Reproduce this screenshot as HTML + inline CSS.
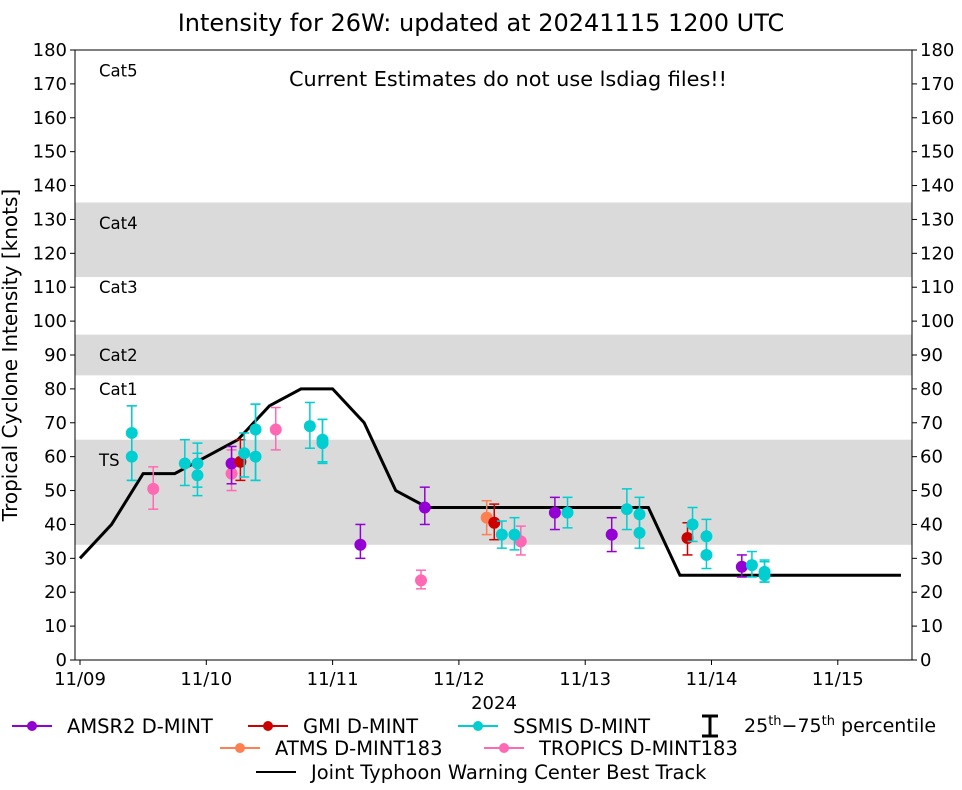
<!DOCTYPE html>
<html><head><meta charset="utf-8"><style>
body{margin:0;background:#fff;font-family:"Liberation Sans","DejaVu Sans",sans-serif}
text{font-family:"DejaVu Sans","Liberation Sans",sans-serif}
</style></head><body>
<svg id="c" width="962" height="785" xmlns="http://www.w3.org/2000/svg"></svg>
<script>
const dayLabels=["11/09","11/10","11/11","11/12","11/13","11/14","11/15"];
const yTicks=[0,10,20,30,40,50,60,70,80,90,100,110,120,130,140,150,160,170,180];
const bands=[[34,65],[84,96],[113,135]];
const catLabels=[["TS",59],["Cat1",80],["Cat2",90],["Cat3",110],["Cat4",129],["Cat5",174]];
const btDays=[0,0.25,0.5,0.75,1,1.25,1.5,1.75,2,2.25,2.5,2.75,3,3.5,4,4.5,4.75,5,5.5,6,6.5];
const btVals=[30,40,55,55,60,65,75,80,80,70,50,45,45,45,45,45,25,25,25,25,25];
const amsr=[[1.2,58,52,63],[2.22,34,30,40],[2.73,45,40,51],[3.76,43.5,38.5,48],[4.21,37,32,42],[5.24,27.5,24.5,31]];
const gmi=[[1.27,58.5,53,65],[3.28,40.5,35.5,46],[4.81,36,31,40.5]];
const ssmis=[[0.41,67,53,75],[0.41,60,53,75],[0.83,58,51.5,65],[0.93,58,51,64],[0.93,54.5,48.5,61],[1.3,61,54,67],[1.39,68,53,75.5],[1.39,60,53,75.5],[1.82,69,62.5,76],[1.92,64,58,71],[1.92,65,58.5,71],[3.34,37,33,41],[3.44,37,32.5,42],[3.86,43.5,39,48],[4.33,44.5,38.5,50.5],[4.43,43,38,48],[4.43,37.5,33,42],[4.85,40,35,45],[4.96,36.5,31,41.5],[4.96,31,27,36],[5.32,28,24.5,32],[5.42,26,23,29.5],[5.42,25,23,29]];
const atms=[[3.22,42,37,47]];
const tropics=[[0.58,50.5,44.5,57],[1.2,55,50,62],[1.55,68,62,74.5],[2.7,23.5,21,26.5],[3.49,35,31,39.5]];
const L=75,R=912,T=50,B=660;
const X=d=>80+d*126.3, Y=v=>B-v*(B-T)/180;
const svg=document.getElementById('c');const NS="http://www.w3.org/2000/svg";
function el(t,a,p){const e=document.createElementNS(NS,t);for(const k in a)e.setAttribute(k,a[k]);(p||svg).appendChild(e);return e;}
function tx(s,a){const e=el('text',a);e.textContent=s;return e;}
bands.forEach(b=>{const r=el('rect',{x:L,y:Y(b[1]),width:R-L,height:Y(b[0])-Y(b[1]),fill:'#dadada'});

});
catLabels.forEach(c=>{const t=tx(c[0],{x:99,y:Y(c[1])+6,'font-size':16.5});

});
el('rect',{x:L,y:T,width:R-L,height:B-T,fill:'none',stroke:'#000','stroke-width':1});
yTicks.forEach(v=>{const y=Y(v);
el('line',{x1:L-5,x2:L,y1:y,y2:y,stroke:'#000'});el('line',{x1:R,x2:R+5,y1:y,y2:y,stroke:'#000'});
const a=tx(v,{x:L-8,y:y+6,'font-size':18,'text-anchor':'end'});


const b=tx(v,{x:R+8,y:y+6,'font-size':18});

});
dayLabels.forEach((s,i)=>{const x=X(i);el('line',{x1:x,x2:x,y1:B,y2:B+5,stroke:'#000'});
const t=tx(s,{x:x,y:B+25,'font-size':18,'text-anchor':'middle'});

});
let t=tx("2024",{x:494,y:709,'font-size':18,'text-anchor':'middle'});
t=tx("Tropical Cyclone Intensity [knots]",{x:0,y:0,'font-size':20,'text-anchor':'middle',transform:'translate(17,355) rotate(-90)'});
t=tx("Intensity for 26W: updated at 20241115 1200 UTC",{x:481,y:31,'font-size':24,'text-anchor':'middle'});
t=tx("Current Estimates do not use lsdiag files!!",{x:508,y:86,'font-size':20.8,'text-anchor':'middle'});
const bt=el('polyline',{points:btDays.map((d,i)=>X(d)+','+Y(btVals[i])).join(' '),fill:'none',stroke:'#000','stroke-width':3});


function series(arr,col,name){arr.forEach(p=>{const g=el('g',{});


const x=X(p[0]);el('line',{x1:x,x2:x,y1:Y(p[2]),y2:Y(p[3]),stroke:col,'stroke-width':1.5},g);
[p[2],p[3]].forEach(v=>el('line',{x1:x-5,x2:x+5,y1:Y(v),y2:Y(v),stroke:col,'stroke-width':1.5},g));
el('circle',{cx:x,cy:Y(p[1]),r:6,fill:col},g);});}
series(tropics,'#ff69b4','tropics');series(atms,'#ff7f50','atms');series(amsr,'#9400d3','amsr2');series(gmi,'#cc0000','gmi');series(ssmis,'#00ced1','ssmis');
function leg(x,y,col,label,name){const g=el('g',{});
el('line',{x1:x,x2:x+40,y1:y,y2:y,stroke:col,'stroke-width':2},g);
if(col!=='#000')el('circle',{cx:x+20,cy:y,r:5,fill:col},g);
const e=el('text',{x:x+55,y:y+7,'font-size':19.5},g);e.textContent=label;}
leg(12,726,'#9400d3','AMSR2 D-MINT','legend-amsr2');
leg(248,726,'#cc0000','GMI D-MINT','legend-gmi');
leg(458,726,'#00ced1','SSMIS D-MINT','legend-ssmis');
leg(220,748,'#ff7f50','ATMS D-MINT183','legend-atms');
leg(484,748,'#ff69b4','TROPICS D-MINT183','legend-tropics');
leg(256,772,'#000','Joint Typhoon Warning Center Best Track','legend-best-track');
const pg=el('g',{});
el('line',{x1:710,x2:710,y1:716,y2:736,stroke:'#000','stroke-width':3},pg);
el('line',{x1:702,x2:718,y1:716,y2:716,stroke:'#000','stroke-width':3},pg);
el('line',{x1:702,x2:718,y1:736,y2:736,stroke:'#000','stroke-width':3},pg);
const pt=el('text',{x:744,y:732,'font-size':19},pg);
pt.innerHTML='25<tspan dy="-7" font-size="13">th</tspan><tspan dy="7">−75</tspan><tspan dy="-7" font-size="13">th</tspan><tspan dy="7"> percentile</tspan>';
</script>
</body></html>
